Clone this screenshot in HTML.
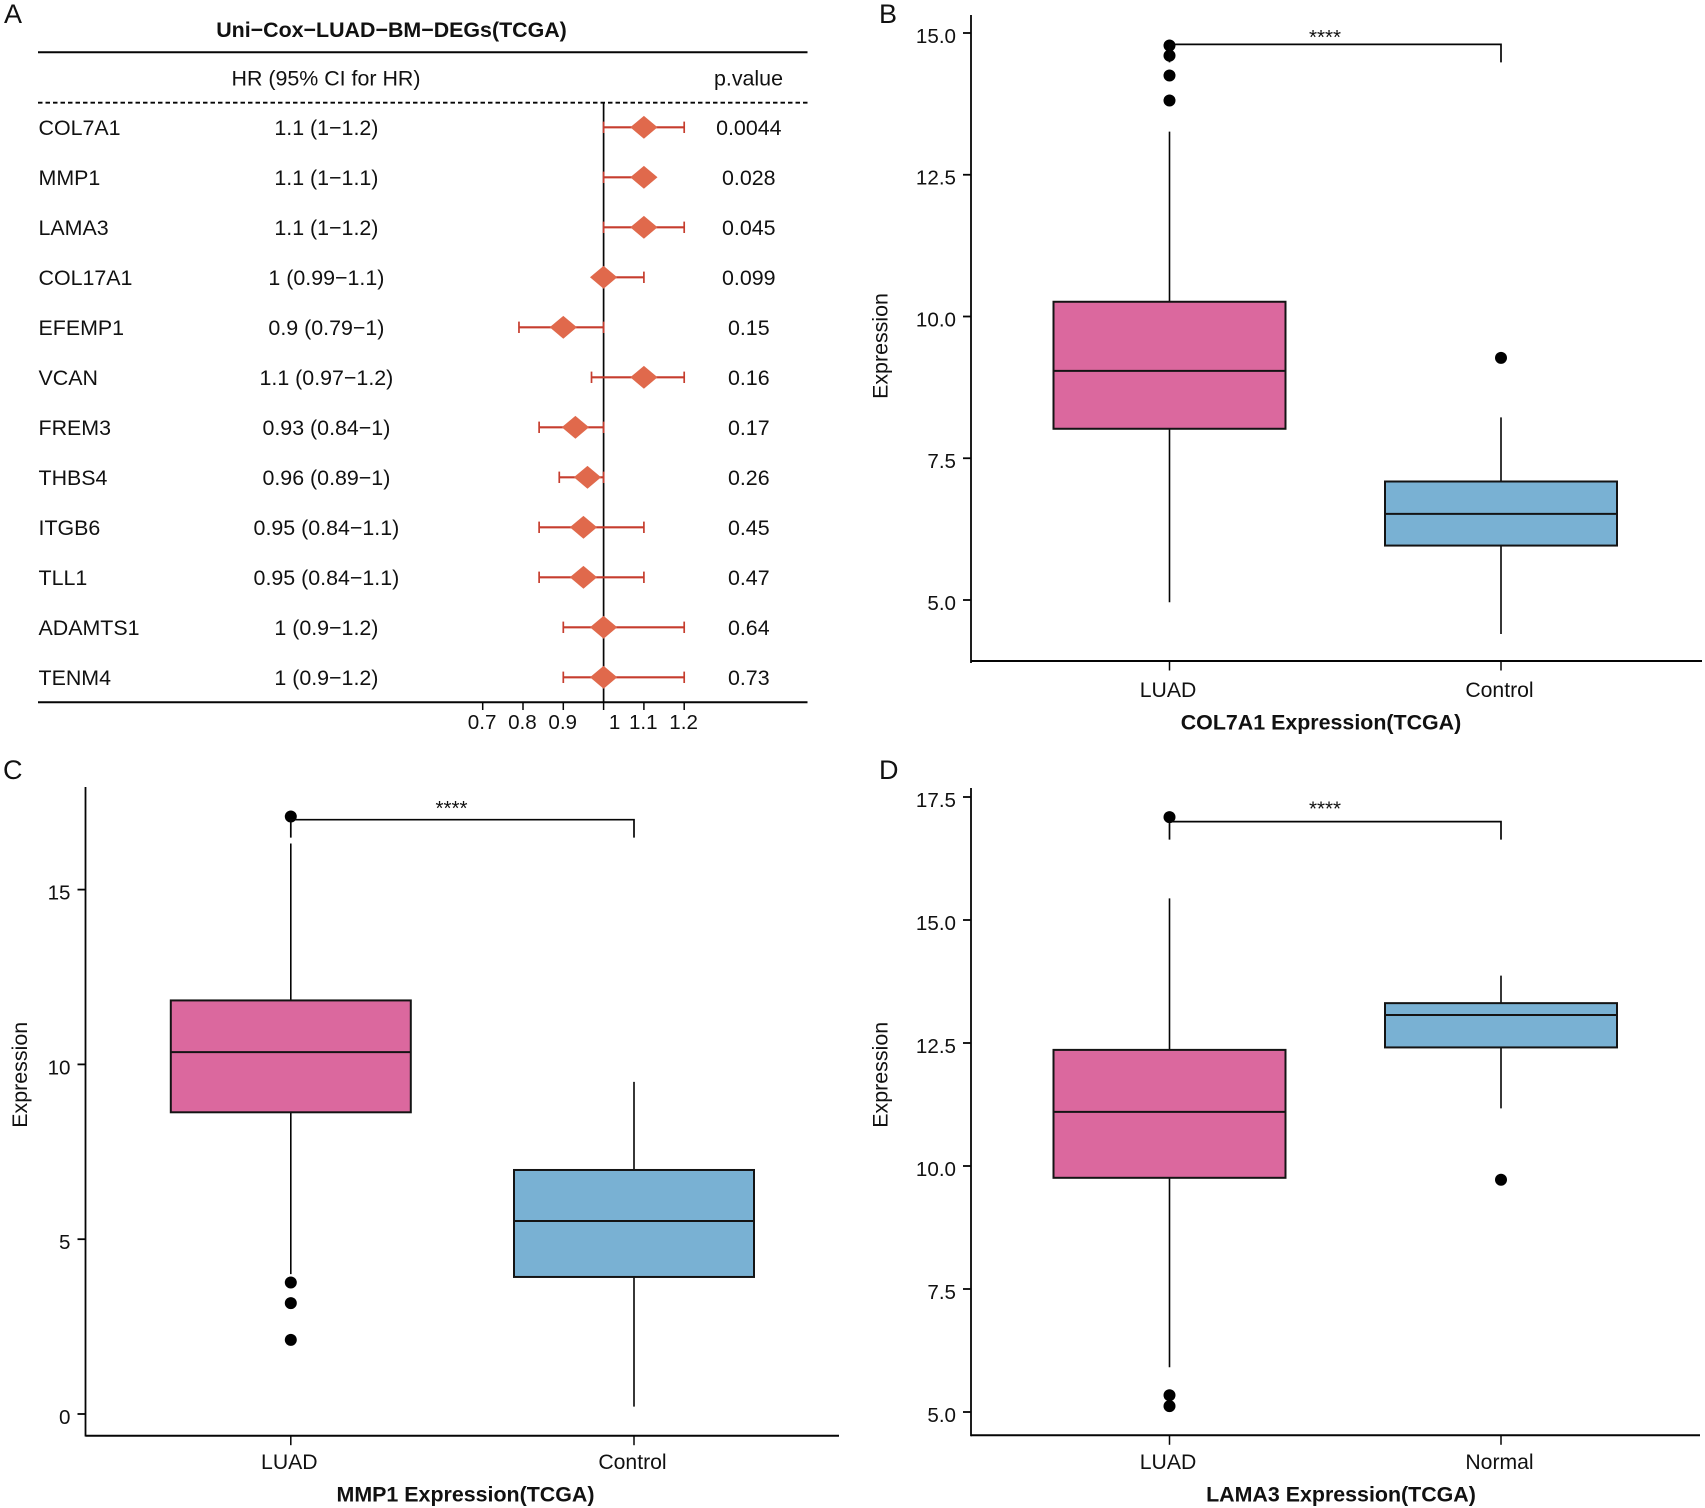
<!DOCTYPE html>
<html lang="en">
<head>
<meta charset="utf-8">
<title>Uni-Cox LUAD BM DEGs and expression boxplots</title>
<style>
html,body{margin:0;padding:0;background:#fff}
svg{display:block}
text{font-family:"Liberation Sans",Arial,sans-serif;fill:#111}
</style>
</head>
<body>
<svg id="fig" xmlns="http://www.w3.org/2000/svg" width="1705" height="1508" viewBox="0 0 1705 1508">
<rect width="1705" height="1508" fill="#fff"/>
<g id="panelA">
  <text x="4" y="23" font-size="27">A</text>
  <text x="391.5" y="37" font-size="21.4" font-weight="bold" text-anchor="middle">Uni−Cox−LUAD−BM−DEGs(TCGA)</text>
  <text x="326" y="85.5" font-size="21.4" text-anchor="middle">HR (95% CI for HR)</text>
  <text x="748.5" y="85.5" font-size="21.4" text-anchor="middle">p.value</text>
</g>
<g id="panelB">
  <text x="879" y="23" font-size="27">B</text>
  <text x="1321" y="729.5" font-size="21.4" font-weight="bold" text-anchor="middle">COL7A1 Expression(TCGA)</text>
  <text transform="translate(887.5,346) rotate(-90)" font-size="21.4" text-anchor="middle">Expression</text>
</g>
<g id="panelC">
  <text x="3" y="779" font-size="27">C</text>
  <text x="465.5" y="1501.5" font-size="21.4" font-weight="bold" text-anchor="middle">MMP1 Expression(TCGA)</text>
  <text transform="translate(26.8,1074.8) rotate(-90)" font-size="21.4" text-anchor="middle">Expression</text>
</g>
<g id="panelD">
  <text x="879" y="779" font-size="27">D</text>
  <text x="1341" y="1501.5" font-size="21.4" font-weight="bold" text-anchor="middle">LAMA3 Expression(TCGA)</text>
  <text transform="translate(887.5,1074.8) rotate(-90)" font-size="21.4" text-anchor="middle">Expression</text>
</g>
</svg>
<script>
// ---------- Panel A data ----------
const genes = ['COL7A1','MMP1','LAMA3','COL17A1','EFEMP1','VCAN','FREM3','THBS4','ITGB6','TLL1','ADAMTS1','TENM4'];
const hazardRatio = [1.1,1.1,1.1,1,0.9,1.1,0.93,0.96,0.95,0.95,1,1];
const ciLower = [1,1,1,0.99,0.79,0.97,0.84,0.89,0.84,0.84,0.9,0.9];
const ciUpper = [1.2,1.1,1.2,1.1,1,1.2,1,1,1.1,1.1,1.2,1.2];
const hrLabels = ['1.1 (1−1.2)','1.1 (1−1.1)','1.1 (1−1.2)','1 (0.99−1.1)','0.9 (0.79−1)','1.1 (0.97−1.2)','0.93 (0.84−1)','0.96 (0.89−1)','0.95 (0.84−1.1)','0.95 (0.84−1.1)','1 (0.9−1.2)','1 (0.9−1.2)'];
const pLabels = ['0.0044','0.028','0.045','0.099','0.15','0.16','0.17','0.26','0.45','0.47','0.64','0.73'];
const forestTicks = [0.7,0.8,0.9,1,1.1,1.2];

// ---------- Panel B data ----------
const bCategories = ['LUAD','Control'];
const bQ1 = [8.02,5.96];
const bMedian = [9.04,6.52];
const bQ3 = [10.26,7.09];
const bWhiskerLow = [4.96,4.4];
const bWhiskerHigh = [13.26,8.22];
const bOutliers = [[14.78,14.6,14.25,13.81],[9.27]];
const bTicks = [5,7.5,10,12.5,15];
const bBracket = [14.8];

// ---------- Panel C data ----------
const cCategories = ['LUAD','Control'];
const cQ1 = [8.63,3.92];
const cMedian = [10.35,5.52];
const cQ3 = [11.83,6.98];
const cWhiskerLow = [4.0,0.21];
const cWhiskerHigh = [16.32,9.5];
const cOutliers = [[17.09,3.76,3.17,2.12],[]];
const cTicks = [0,5,10,15];
const cBracket = [17.0];

// ---------- Panel D data ----------
const dCategories = ['LUAD','Normal'];
const dQ1 = [9.76,12.41];
const dMedian = [11.1,13.07];
const dQ3 = [12.36,13.31];
const dWhiskerLow = [5.91,11.17];
const dWhiskerHigh = [15.44,13.87];
const dOutliers = [[17.09,5.34,5.12],[9.72]];
const dTicks = [5,7.5,10,12.5,15,17.5];
const dBracket = [17.0];

const NS = 'http://www.w3.org/2000/svg';
function seg(parent,x1,y1,x2,y2,color,width,dash){
  const el = document.createElementNS(NS,'line');
  el.setAttribute('x1',x1);el.setAttribute('y1',y1);el.setAttribute('x2',x2);el.setAttribute('y2',y2);
  el.setAttribute('stroke',color);el.setAttribute('stroke-width',width);
  if(dash) el.setAttribute('stroke-dasharray',dash);
  parent.appendChild(el);
  return el;
}
function txt(parent,x,y,str,anchor,size){
  const el = document.createElementNS(NS,'text');
  el.setAttribute('x',x);el.setAttribute('y',y);
  el.setAttribute('font-size',size||21.4);
  el.setAttribute('text-anchor',anchor||'middle');
  el.textContent = str;
  parent.appendChild(el);
  return el;
}
const INK = '#050505';

// ---------- Forest plot ----------
(function(){
  const g = document.getElementById('panelA');
  const xHR = v => 603.6 + (v-1)*403;
  const rowY = i => 127.3 + 50*i;
  const left = 38, right = 807.5, topDash = 102.7, bottom = 702.3;

  let el = seg(g,left,52.3,right,52.3,INK,2);
  
  
  el = seg(g,left,topDash,right,topDash,INK,1.9,'4.5 3');
  
  
  el = seg(g,xHR(1),topDash,xHR(1),bottom,INK,1.7);
  
  
  el = seg(g,left,bottom,right,bottom,INK,2);
  
  

  forestTicks.forEach(function(t){
    const x = xHR(t);
    const tick = seg(g,x,bottom,x,710,INK,1.5);
    
    
    const nudge = t === 1 ? 11 : -0.6;
    const label = txt(g,x+nudge,729,String(t),'middle',20.6);
    
    
  });

  genes.forEach(function(gene,i){
    const y = rowY(i);
    const baseline = y + 7.8;
    const name = txt(g,38.5,baseline,gene,'start');
    
    
    const hr = txt(g,326.4,baseline,hrLabels[i],'middle');
    
    
    const p = txt(g,748.8,baseline,pLabels[i],'middle');
    
    

    const ci = seg(g,xHR(ciLower[i]),y,xHR(ciUpper[i]),y,'#C63D2E',2.1);
    
    
    const capL = seg(g,xHR(ciLower[i]),y-5.7,xHR(ciLower[i]),y+5.7,'#C63D2E',1.7);
    
    
    const capH = seg(g,xHR(ciUpper[i]),y-5.7,xHR(ciUpper[i]),y+5.7,'#C63D2E',1.7);
    
    

    const d = document.createElementNS(NS,'polygon');
    const cx = xHR(hazardRatio[i]);
    d.setAttribute('points',(cx-13.6)+','+y+' '+cx+','+(y-11.4)+' '+(cx+13.6)+','+y+' '+cx+','+(y+11.4));
    d.setAttribute('fill','#E0694C');
    
    
    g.appendChild(d);
  });
})();

// ---------- Box plots ----------
function drawBoxPlot(g,opt,cats,q1,med,q3,lo,hi,outs,ticks,bracket,decimals){
  const y = opt.y, xs = opt.xs;
  const axisX = opt.axisX, axisY = opt.axisY;

  let el = seg(g,axisX,opt.axisTop,axisX,opt.axisBottom,INK,1.8);
  
  
  el = seg(g,axisX,axisY,opt.axisRight,axisY,INK,2);
  
  

  ticks.forEach(function(t){
    const ty = y(t);
    const tick = seg(g,axisX-8,ty,axisX,ty,INK,1.8);
    
    
    const label = txt(g,axisX-15,ty+9.9,t.toFixed(decimals),'end',20.6);
    
    
  });

  cats.forEach(function(cat,i){
    const x = xs[i];
    const tick = seg(g,x,axisY,x,axisY+9.5,INK,1.5);
    
    
    const label = txt(g,x-1.5,axisY+opt.labelDy,cat,'middle',21.2);
    
    

    const whisker = seg(g,x,y(hi[i]),x,y(lo[i]),INK,1.6);
    
    

    const box = document.createElementNS(NS,'rect');
    box.setAttribute('x',x-opt.halfWidth);
    box.setAttribute('width',opt.halfWidth*2);
    box.setAttribute('y',y(q3[i]));
    box.setAttribute('height',y(q1[i])-y(q3[i]));
    box.setAttribute('fill',i===0?'#DB689E':'#79B1D3');
    box.setAttribute('stroke','#141414');
    box.setAttribute('stroke-width','2');
    
    
    g.appendChild(box);

    const m = seg(g,x-opt.halfWidth,y(med[i]),x+opt.halfWidth,y(med[i]),'#141414',2);
    
    

    outs[i].forEach(function(v){
      const c = document.createElementNS(NS,'circle');
      c.setAttribute('cx',x);
      c.setAttribute('cy',y(v));
      c.setAttribute('r','6');
      c.setAttribute('fill','#000');
      
      
      g.appendChild(c);
    });
  });

  const by = y(bracket[0]);
  const path = document.createElementNS(NS,'path');
  path.setAttribute('d','M'+xs[0]+' '+(by+18)+'V'+by+'H'+xs[1]+'V'+(by+18));
  path.setAttribute('fill','none');
  path.setAttribute('stroke',INK);
  path.setAttribute('stroke-width','1.7');
  
  
  g.appendChild(path);

  const stars = txt(g,opt.starX,opt.starBaseline,'****','middle',20.6);
  
  
}

drawBoxPlot(document.getElementById('panelB'),{
  y:v=>600-(v-5)*56.7, xs:[1169.5,1501], halfWidth:116,
  axisX:971, axisY:661, axisTop:15, axisBottom:663, axisRight:1702,
  starX:1325, starBaseline:44, labelDy:35.8
},bCategories,bQ1,bMedian,bQ3,bWhiskerLow,bWhiskerHigh,bOutliers,bTicks,bBracket,1);

drawBoxPlot(document.getElementById('panelC'),{
  y:v=>1414-v*34.96, xs:[290.8,634], halfWidth:120,
  axisX:85.5, axisY:1435.7, axisTop:787, axisBottom:1436.5, axisRight:839,
  starX:451.5, starBaseline:815, labelDy:33.5
},cCategories,cQ1,cMedian,cQ3,cWhiskerLow,cWhiskerHigh,cOutliers,cTicks,cBracket,0);

drawBoxPlot(document.getElementById('panelD'),{
  y:v=>1412-(v-5)*49.2, xs:[1169.5,1501], halfWidth:116,
  axisX:971, axisY:1435.3, axisTop:788, axisBottom:1436.3, axisRight:1700,
  starX:1325, starBaseline:815.5, labelDy:33.5
},dCategories,dQ1,dMedian,dQ3,dWhiskerLow,dWhiskerHigh,dOutliers,dTicks,dBracket,1);
</script>
</body>
</html>
